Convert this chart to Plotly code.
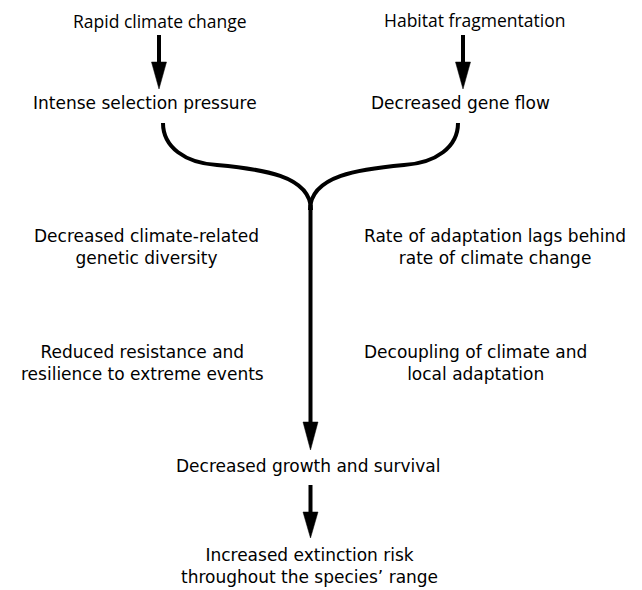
import plotly.graph_objects as go

# ---- content ----
top_causes = ["Rapid climate change", "Habitat fragmentation"]
direct_effects = ["Intense selection pressure", "Decreased gene flow"]
left_consequences = ["Decreased climate-related<br>genetic diversity",
                     "Reduced resistance and<br>resilience to extreme events"]
right_consequences = ["Rate of adaptation lags behind<br>rate of climate change",
                      "Decoupling of climate and<br>local adaptation"]
outcome = "Decreased growth and survival"
final_outcome = "Increased extinction risk<br>throughout the species’ range"

# ---- layout positions (pixel space of the 642x590 page) ----
PAGE_W, PAGE_H = 642, 590
OFF = 8  # default page body margin
cause_pos = [(160, 21), (474, 20)]
effect_pos = [(145, 103), (460, 103)]
left_pos = [(146, 247), (142, 363)]
right_pos = [(495, 247), (475, 363)]
outcome_pos = (308, 466)
final_pos = (309, 566)

TOP_FONT = "Open Sans"
BODY_FONT = "DejaVu Sans"
fig = go.Figure()

def add_text(x, y, txt, family=BODY_FONT, size=17):
    fig.add_annotation(x=x, y=y, text=txt, showarrow=False, xref="x", yref="y",
                       font=dict(family=family, size=size, color="black"),
                       align="center", xanchor="center", yanchor="middle",
                       borderpad=0)

for (x, y), t in zip(cause_pos, top_causes):
    add_text(x, y, t, TOP_FONT, 17.5)
for (x, y), t in zip(effect_pos, direct_effects):
    add_text(x, y, t)
for (x, y), t in zip(left_pos, left_consequences):
    add_text(x, y, t)
for (x, y), t in zip(right_pos, right_consequences):
    add_text(x, y, t)
add_text(*outcome_pos, outcome)
add_text(*final_pos, final_outcome)

LW = 4
def shaft(x, y0, y1):
    fig.add_shape(type="line", x0=x, x1=x, y0=y0, y1=y1, xref="x", yref="y",
                  line=dict(color="black", width=LW))

def head(x, y0, tip, hw=7.5):
    fig.add_shape(type="path", xref="x", yref="y",
                  path=f"M {x-hw},{y0} L {x+hw},{y0} L {x},{tip} Z",
                  fillcolor="black", line=dict(color="black", width=0.5))

# top arrows
for xa in (159, 463):
    shaft(xa, 35, 64)
    head(xa, 62, 89)

# converging curves
cx = 310.5
left_path = "M 163,123 C 163,147 185,163 217,165 C 260,169 311,175 311,210"
right_path = "M 458,123 C 458,147 436,163 404,165 C 361,169 310,175 310,210"
for p in (left_path, right_path):
    fig.add_shape(type="path", path=p, xref="x", yref="y",
                  line=dict(color="black", width=LW))

# main shaft
shaft(cx, 205, 425)
head(cx, 422, 450)
# bottom arrow
shaft(cx, 485, 514)
head(cx, 512, 538)

fig.update_layout(
    width=PAGE_W - OFF, height=PAGE_H - OFF, margin=dict(l=0, r=0, t=0, b=0),
    paper_bgcolor="white", plot_bgcolor="white", showlegend=False,
    xaxis=dict(range=[OFF, PAGE_W], visible=False, fixedrange=True),
    yaxis=dict(range=[PAGE_H, OFF], visible=False, fixedrange=True),
)
fig.write_html("out.html")
